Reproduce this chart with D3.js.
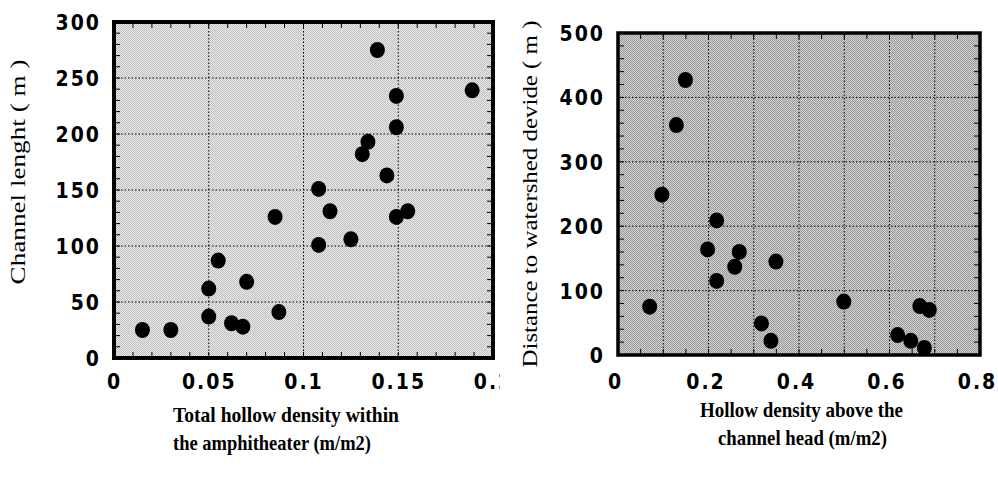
<!doctype html><html><head>
<style>
  body { margin: 0; background: #fff; }
  svg text { fill: #000; }
  .tick-label text { font: bold 21px "DejaVu Sans Condensed", "Liberation Sans", sans-serif; letter-spacing: 2px; }
  .ytitle { font: 22px "Liberation Serif", "Times New Roman", serif; }
  .xtitle { font: bold 22px "Liberation Serif", "Times New Roman", serif; }
  .grid line { stroke: #000; stroke-width: 1; stroke-dasharray: 1.5 2; }
</style>
</head><body>
<script src="https://d3js.org/d3.v7.min.js"></script>
<script>
  // left panel: total hollow density vs channel length
  var leftDensity = [0.015, 0.030, 0.050, 0.050, 0.055, 0.062, 0.068, 0.070, 0.085, 0.087, 0.108, 0.108,
                     0.114, 0.125, 0.131, 0.134, 0.139, 0.144, 0.149, 0.149, 0.149, 0.155, 0.189];
  var leftLength  = [25, 25, 62, 37, 87, 31, 28, 68, 126, 41, 151, 101,
                     131, 106, 182, 193, 275, 163, 234, 206, 126, 131, 239];
  var leftXTicks = [0, 0.05, 0.1, 0.15, 0.2];
  var leftYTicks = [0, 50, 100, 150, 200, 250, 300];

  // right panel: hollow density above channel head vs distance to divide
  var rightDensity  = [0.070, 0.097, 0.129, 0.149, 0.198, 0.218, 0.218, 0.258, 0.268, 0.317, 0.338, 0.349,
                       0.499, 0.618, 0.647, 0.667, 0.688, 0.677];
  var rightDistance = [75, 249, 357, 427, 164, 209, 115, 137, 160, 49, 22, 145,
                       83, 31, 22, 76, 70, 11];
  var rightXTicks = [0, 0.2, 0.4, 0.6, 0.8];
  var rightYTicks = [0, 100, 200, 300, 400, 500];

  var svg = d3.select("body").append("svg")
    .attr("width", 998)
    .attr("height", 479);

  var defs = svg.append("defs");
  defs.append("clipPath").attr("id", "leftclip")
    .append("rect").attr("x", 0).attr("y", 0).attr("width", 500).attr("height", 479);

  // halftone-ish screens for the two plot areas
  function screen(id, light, dark) {
    var p = defs.append("pattern").attr("id", id)
      .attr("patternUnits", "userSpaceOnUse").attr("width", 2).attr("height", 2);
    p.append("rect").attr("width", 2).attr("height", 2).attr("fill", light);
    p.append("rect").attr("width", 1).attr("height", 1).attr("fill", dark);
    p.append("rect").attr("x", 1).attr("y", 1).attr("width", 1).attr("height", 1).attr("fill", dark);
  }
  screen("scrLeft", "#ececec", "#bdbdbd");
  screen("scrRight", "#d0d0d0", "#9a9a9a");

  function panel(opt) {
    var g = svg.append("g");
    if (opt.clip) g.attr("clip-path", "url(#" + opt.clip + ")");
    var x = d3.scaleLinear().domain(opt.xDomain).range(opt.xRange);
    var y = d3.scaleLinear().domain(opt.yDomain).range(opt.yRange);
    var x0 = opt.xRange[0], x1 = opt.xRange[1], y0 = opt.yRange[0], y1 = opt.yRange[1];

    // shaded background
    g.append("rect")
      .attr("x", x0).attr("y", y1)
      .attr("width", x1 - x0).attr("height", y0 - y1)
      .attr("fill", "url(#" + opt.bg + ")");

    // dotted grid
    g.append("g").attr("class", "grid")
      .selectAll("line").data(opt.xGrid).enter().append("line")
      .attr("x1", function(d) { return x(d); }).attr("x2", function(d) { return x(d); })
      .attr("y1", y0).attr("y2", y1);
    g.append("g").attr("class", "grid")
      .selectAll("line").data(opt.yGrid).enter().append("line")
      .attr("y1", function(d) { return y(d); }).attr("y2", function(d) { return y(d); })
      .attr("x1", x0).attr("x2", x1);

    // small inside ticks on all four sides
    var minorX = d3.range(opt.xDomain[0], opt.xDomain[1] + 1e-9, opt.xMinor);
    var minorY = d3.range(opt.yDomain[0], opt.yDomain[1] + 1e-9, opt.yMinor);
    var tk = g.append("g").attr("stroke", "#000").attr("stroke-width", 1);
    tk.selectAll(".mb").data(minorX).enter().append("line")
      .attr("x1", function(d) { return x(d); }).attr("x2", function(d) { return x(d); })
      .attr("y1", y0).attr("y2", y0 - 6);
    tk.selectAll(".mt").data(minorX).enter().append("line")
      .attr("x1", function(d) { return x(d); }).attr("x2", function(d) { return x(d); })
      .attr("y1", y1).attr("y2", y1 + 6);
    tk.selectAll(".ml").data(minorY).enter().append("line")
      .attr("y1", function(d) { return y(d); }).attr("y2", function(d) { return y(d); })
      .attr("x1", x0).attr("x2", x0 + 6);
    tk.selectAll(".mr").data(minorY).enter().append("line")
      .attr("y1", function(d) { return y(d); }).attr("y2", function(d) { return y(d); })
      .attr("x1", x1).attr("x2", x1 - 6);

    // points
    g.selectAll("ellipse.pt").data(opt.xs).enter().append("ellipse")
      .attr("cx", function(d) { return x(d); })
      .attr("cy", function(d, i) { return y(opt.ys[i]); })
      .attr("rx", 7.5).attr("ry", 8)
      .attr("fill", "#000");

    // frame
    g.append("rect")
      .attr("x", x0).attr("y", y1)
      .attr("width", x1 - x0).attr("height", y0 - y1)
      .attr("fill", "none").attr("stroke", "#000").attr("stroke-width", opt.frame);

    // tick labels through d3 axes
    var ax = g.append("g").attr("class", "tick-label")
      .attr("transform", "translate(" + opt.xLabelDx + "," + opt.xLabelY + ")")
      .call(d3.axisBottom(x).tickValues(opt.xTicks).tickSize(0).tickFormat(d3.format("")));
    ax.select(".domain").remove();
    ax.selectAll("text").attr("dy", 0).attr("y", 0);

    var ay = g.append("g").attr("class", "tick-label")
      .attr("transform", "translate(" + opt.yLabelX + ",0)")
      .call(d3.axisLeft(y).tickValues(opt.yTicks).tickSize(0).tickFormat(d3.format("")));
    ay.select(".domain").remove();
    ay.selectAll("text").attr("x", 0).attr("dy", "0.36em");

    // axis titles
    g.append("text").attr("class", "ytitle")
      .attr("transform", "translate(" + opt.yTitle.x + "," + opt.yTitle.cy + ") rotate(-90)")
      .attr("text-anchor", "middle")
      .attr("textLength", opt.yTitle.len).attr("lengthAdjust", "spacingAndGlyphs")
      .text(opt.yTitle.text);

    opt.xTitle.forEach(function(t) {
      g.append("text").attr("class", "xtitle")
        .attr("x", t.x).attr("y", t.y)
        .attr("textLength", t.len).attr("lengthAdjust", "spacingAndGlyphs")
        .text(t.text);
    });
  }

  panel({
    clip: "leftclip",
    xDomain: [0, 0.2], xRange: [114, 493],
    yDomain: [0, 300], yRange: [358, 22],
    bg: "scrLeft", frame: 4,
    xGrid: [0.05, 0.1, 0.15], yGrid: [50, 100, 150, 200, 250],
    xMinor: 0.01, yMinor: 10,
    xs: leftDensity, ys: leftLength,
    xTicks: leftXTicks, yTicks: leftYTicks,
    xLabelY: 389, xLabelDx: 0, yLabelX: 101,
    yTitle: { x: 25, cy: 172, len: 225, text: "Channel lenght ( m )" },
    xTitle: [
      { x: 173, y: 422, len: 226, text: "Total hollow density within" },
      { x: 173, y: 450, len: 198, text: "the amphitheater (m/m2)" }
    ]
  });

  panel({
    xDomain: [0, 0.8], xRange: [618, 980],
    yDomain: [0, 500], yRange: [355, 33],
    bg: "scrRight", frame: 3.5,
    xGrid: [0.1, 0.2, 0.3, 0.4, 0.5, 0.6, 0.7], yGrid: [100, 200, 300, 400],
    xMinor: 0.05, yMinor: 20,
    xs: rightDensity, ys: rightDistance,
    xTicks: rightXTicks, yTicks: rightYTicks,
    xLabelY: 389, xLabelDx: -3, yLabelX: 605,
    yTitle: { x: 537, cy: 194, len: 347, text: "Distance to watershed devide ( m )" },
    xTitle: [
      { x: 700, y: 417, len: 203, text: "Hollow density above the" },
      { x: 718, y: 445, len: 169, text: "channel head (m/m2)" }
    ]
  });
</script>
</body></html>
